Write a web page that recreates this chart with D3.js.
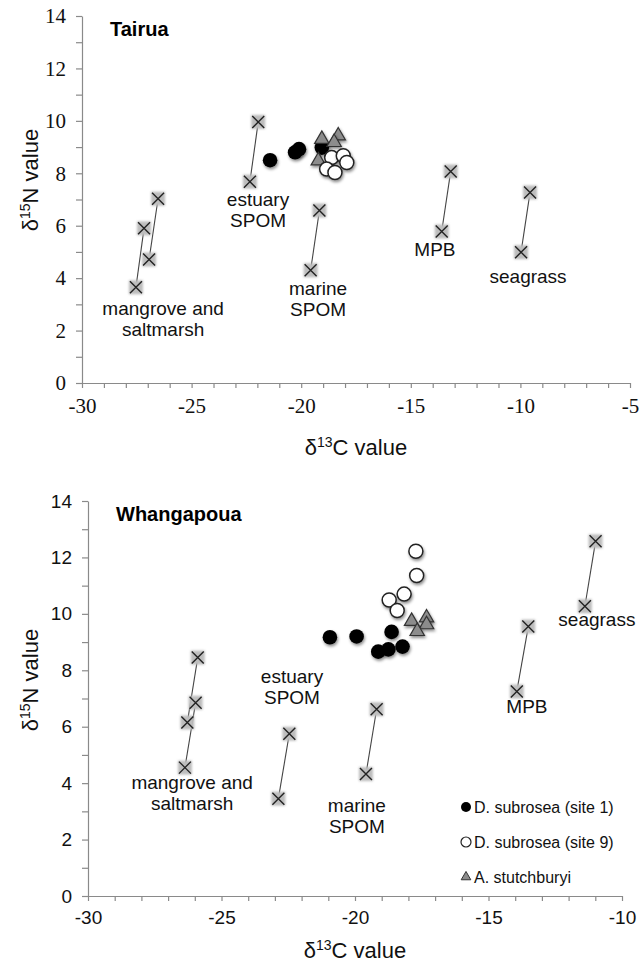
<!DOCTYPE html>
<html>
<head>
<meta charset="utf-8">
<script src="https://cdn.jsdelivr.net/npm/d3@7"></script>
<style>
  body { margin: 0; background: #fff; }
  svg { display: block; }
</style>
</head>
<body>
<svg id="chart" width="642" height="971"></svg>
<script>

//
// DATA
//

// source end members, each a pair of (d13C, d15N) joined by a line
const tairuaSources = [
    { from: [-27.54, 3.65], to: [-27.17, 5.90] },
    { from: [-26.94, 4.71], to: [-26.53, 7.03] },
    { from: [-22.34, 7.68], to: [-21.96, 9.96] },
    { from: [-19.57, 4.30], to: [-19.17, 6.58] },
    { from: [-13.59, 5.78], to: [-13.18, 8.07] },
    { from: [-9.97, 4.99],  to: [-9.56, 7.27] }
];
const tairuaSite1 = [[-21.42, 8.50], [-20.28, 8.80], [-20.10, 8.92], [-19.06, 8.98]];
const tairuaSite9 = [[-18.61, 8.60], [-18.08, 8.67], [-17.92, 8.41], [-18.84, 8.16], [-18.46, 8.03]];
const tairuaCockle = [[-19.06, 9.30], [-18.31, 9.43], [-18.50, 9.18], [-19.22, 8.48]];
const tairuaLabels = [
    { text: ["mangrove and", "saltmarsh"], at: [-26.3, 2.59] },
    { text: ["estuary", "SPOM"], at: [-21.97, 6.74] },
    { text: ["marine", "SPOM"], at: [-19.23, 3.35] },
    { text: ["MPB"], at: [-13.9, 4.84] },
    { text: ["seagrass"], at: [-9.65, 3.81] }
];

const whangaSources = [
    { from: [-26.37, 4.55], to: [-25.97, 6.85] },
    { from: [-26.28, 6.15], to: [-25.89, 8.45] },
    { from: [-22.87, 3.45], to: [-22.46, 5.75] },
    { from: [-19.59, 4.32], to: [-19.19, 6.62] },
    { from: [-13.94, 7.25], to: [-13.51, 9.55] },
    { from: [-11.39, 10.27], to: [-10.99, 12.57] }
];
const whangaSite1 = [[-20.94, 9.17], [-19.94, 9.20], [-18.63, 9.36], [-19.13, 8.66], [-18.75, 8.74], [-18.22, 8.84]];
const whangaSite9 = [[-17.72, 12.22], [-17.69, 11.36], [-18.16, 10.70], [-18.72, 10.49], [-18.42, 10.12]];
const whangaCockle = [[-17.88, 9.74], [-17.32, 9.86], [-17.32, 9.62], [-17.67, 9.38]];
const whangaLabels = [
    { text: ["mangrove and", "saltmarsh"], at: [-26.1, 3.79] },
    { text: ["estuary", "SPOM"], at: [-22.36, 7.55] },
    { text: ["marine", "SPOM"], at: [-19.93, 2.98] },
    { text: ["MPB"], at: [-13.56, 6.49] },
    { text: ["seagrass"], at: [-10.94, 9.57] }
];

const legendNames = ["D. subrosea (site 1)", "D. subrosea (site 9)", "A. stutchburyi"];

//
// SETUP
//

const svg = d3.select("#chart");
const SANS = "Liberation Sans";
const SERIF = "Liberation Serif";

const defs = svg.append("defs");
defs.append("filter")
    .attr("id", "shadow")
    .attr("x", "-50%").attr("y", "-50%")
    .attr("width", "200%").attr("height", "200%")
    .append("feDropShadow")
        .attr("dx", 1).attr("dy", 2)
        .attr("stdDeviation", 1.4)
        .attr("flood-color", "#000")
        .attr("flood-opacity", 0.45);
defs.append("filter")
    .attr("id", "soft")
    .attr("x", "-50%").attr("y", "-50%")
    .attr("width", "200%").attr("height", "200%")
    .append("feGaussianBlur")
        .attr("stdDeviation", 1.3);

//
// PANEL
//

function drawPanel(cfg) {

    const x = d3.scaleLinear().domain(cfg.xDomain).range([cfg.left, cfg.right]);
    const y = d3.scaleLinear().domain([0, 14]).range([cfg.bottom, cfg.top]);

    const g = svg.append("g").attr("id", cfg.id);

    // axes
    const xTicks = d3.range(cfg.xDomain[0], cfg.xDomain[1] + 1, 1);
    const xAxis = g.append("g")
        .attr("transform", `translate(0, ${cfg.bottom})`)
        .call(d3.axisBottom(x)
            .tickValues(xTicks)
            .tickSize(5)
            .tickSizeOuter(0)
            .tickPadding(10)
            .tickFormat(d => d % 5 === 0 ? d : ""));

    const yAxis = g.append("g")
        .attr("transform", `translate(${cfg.left}, 0)`)
        .call(d3.axisLeft(y)
            .tickValues(d3.range(0, 15, 1))
            .tickSize(6)
            .tickSizeOuter(0)
            .tickPadding(cfg.yPad)
            .tickFormat(d => d % 2 === 0 ? d : ""));

    [xAxis, yAxis].forEach(a => {
        a.attr("font-family", null).attr("font-size", null);
        a.selectAll("path, line").attr("stroke", "#8a8a8a").attr("stroke-width", 1.2);
        a.selectAll("text")
            .attr("fill", "#111")
            .style("font-family", cfg.tickFont)
            .style("font-size", cfg.tickSize + "px");
    });

    // axis titles
    const xt = g.append("text")
        .attr("x", (cfg.left + cfg.right) / 2)
        .attr("y", cfg.xTitleY)
        .attr("text-anchor", "middle")
        .style("font-family", SANS)
        .style("font-size", "22px")
        .attr("fill", "#111");
    xt.append("tspan").text("δ");
    xt.append("tspan").attr("dy", -8).style("font-size", "14px").text("13");
    xt.append("tspan").attr("dy", 8).text("C value");

    const yt = g.append("text")
        .attr("transform", `translate(${cfg.yTitleX}, ${cfg.yTitleY}) rotate(-90)`)
        .attr("text-anchor", "middle")
        .style("font-family", SANS)
        .style("font-size", "22px")
        .attr("fill", "#111");
    yt.append("tspan").text("δ");
    yt.append("tspan").attr("dy", -8).style("font-size", "14px").text("15");
    yt.append("tspan").attr("dy", 8).text("N value");

    // panel title
    g.append("text")
        .attr("x", cfg.left + 28)
        .attr("y", cfg.top + 20)
        .style("font-family", SANS)
        .style("font-weight", "bold")
        .style("font-size", "20px")
        .attr("fill", "#000")
        .text(cfg.title);

    // source lines
    g.append("g").selectAll("line")
        .data(cfg.sources)
        .enter().append("line")
            .attr("x1", d => x(d.from[0]))
            .attr("y1", d => y(d.from[1]))
            .attr("x2", d => x(d.to[0]))
            .attr("y2", d => y(d.to[1]))
            .attr("stroke", "#444")
            .attr("stroke-width", 1.1);

    // source crosses
    const pts = cfg.sources.flatMap(d => [d.from, d.to]);
    const cross = g.append("g").selectAll("g")
        .data(pts)
        .enter().append("g")
            .attr("transform", d => `translate(${x(d[0])}, ${y(d[1])})`);
    cross.append("rect")
        .attr("x", -7).attr("y", -7)
        .attr("width", 14).attr("height", 14)
        .attr("fill", "#bdbdbd")
        .attr("filter", "url(#soft)");
    cross.append("path")
        .attr("d", "M-6,-6L6,6M-6,6L6,-6")
        .attr("stroke", "#222")
        .attr("stroke-width", 1.4)
        .attr("fill", "none");

    // source labels
    const lab = g.append("g").selectAll("text")
        .data(cfg.labels)
        .enter().append("text")
            .attr("x", d => x(d.at[0]))
            .attr("y", d => y(d.at[1]))
            .attr("text-anchor", "middle")
            .attr("dy", "0.35em")
            .style("font-family", SANS)
            .style("font-size", "19px")
            .attr("fill", "#111");
    lab.selectAll("tspan")
        .data(d => d.text.map(t => ({ t: t, x: x(d.at[0]) })))
        .enter().append("tspan")
            .attr("x", d => d.x)
            .attr("dy", (d, i) => i === 0 ? 0 : "1.1em")
            .text(d => d.t);

    // consumers
    g.append("g").selectAll("circle")
        .data(cfg.site1)
        .enter().append("circle")
            .attr("cx", d => x(d[0]))
            .attr("cy", d => y(d[1]))
            .attr("r", 7.3)
            .attr("fill", "#000")
            .attr("filter", "url(#shadow)");

    g.append("g").selectAll("path")
        .data(cfg.cockle)
        .enter().append("path")
            .attr("transform", d => `translate(${x(d[0])}, ${y(d[1])})`)
            .attr("d", d3.symbol(d3.symbolTriangle, 90))
            .attr("fill", "#8c8c8c")
            .attr("stroke", "#333")
            .attr("stroke-width", 1.2)
            .attr("filter", "url(#shadow)");

    g.append("g").selectAll("circle")
        .data(cfg.site9)
        .enter().append("circle")
            .attr("cx", d => x(d[0]))
            .attr("cy", d => y(d[1]))
            .attr("r", 7)
            .attr("fill", "#fff")
            .attr("stroke", "#222")
            .attr("stroke-width", 1.5)
            .attr("filter", "url(#shadow)");

    return { x, y, g };
}

drawPanel({
    id: "tairua", title: "Tairua",
    xDomain: [-30, -5], left: 82, right: 630, top: 16, bottom: 383,
    tickFont: SERIF, tickSize: 21, yPad: 10,
    xTitleY: 455, yTitleX: 38, yTitleY: 180,
    sources: tairuaSources, site1: tairuaSite1, site9: tairuaSite9, cockle: tairuaCockle,
    labels: tairuaLabels
});

drawPanel({
    id: "whangapoua", title: "Whangapoua",
    xDomain: [-30, -10], left: 88, right: 622, top: 501, bottom: 896,
    tickFont: SANS, tickSize: 19, yPad: 10,
    xTitleY: 958, yTitleX: 38, yTitleY: 680,
    sources: whangaSources, site1: whangaSite1, site9: whangaSite9, cockle: whangaCockle,
    labels: whangaLabels
});

//
// LEGEND
//

const legend = svg.append("g")
    .attr("transform", "translate(466, 807)");

const rows = legend.selectAll("g")
    .data(legendNames)
    .enter().append("g")
        .attr("transform", (d, i) => `translate(0, ${i * 35})`);

rows.each(function (d, i) {
    const r = d3.select(this);
    if (i === 0) {
        r.append("circle").attr("r", 5).attr("fill", "#000");
    } else if (i === 1) {
        r.append("circle").attr("r", 5).attr("fill", "#fff").attr("stroke", "#222").attr("stroke-width", 1.2);
    } else {
        r.append("path").attr("d", d3.symbol(d3.symbolTriangle, 40))
            .attr("fill", "#8c8c8c").attr("stroke", "#333").attr("stroke-width", 1);
    }
});

rows.append("text")
    .attr("x", 8)
    .attr("dy", "0.35em")
    .style("font-family", SANS)
    .style("font-size", "16px")
    .attr("fill", "#111")
    .text(d => d);

</script>
</body>
</html>
